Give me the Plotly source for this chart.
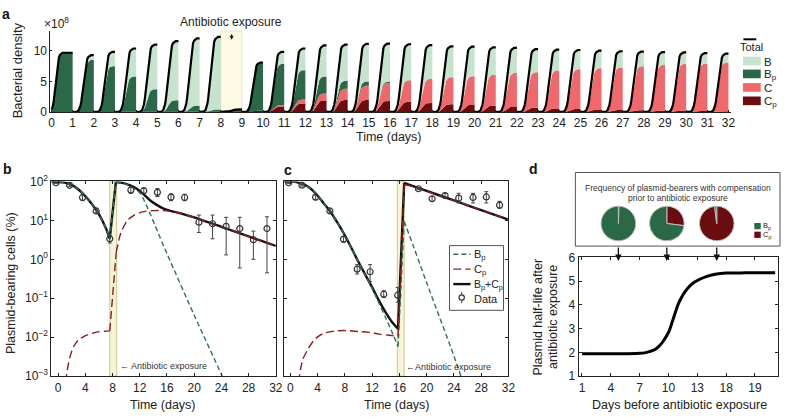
import plotly.graph_objects as go

W, H = 788, 419
def PX(x): return x / W
def PY(y): return 1 - y / H

FONT = "Liberation Sans, Arial, Helvetica, sans-serif"

# ---------------- Panel a data (plateau values per daily cycle, x10^8) ----------------
A_DAY_END = list(range(1, 33))
A_B  = [0, 0.8, 2.35, 4.6, 7.35, 9.7, 11.05, 11.9, 0, 0, 2.0, 3.55, 5.1, 5.95, 6.15, 6.3,
        5.9, 5.55, 5.05, 4.85, 4.5, 4.13, 3.8, 3.4, 3.15, 2.9, 2.65, 2.4, 2.1, 1.9, 1.7, 1.45]
A_BP = [9.7, 8.5, 7.5, 5.8, 3.7, 1.9, 1.0, 0.4, 0.4, 7.9, 6.7, 4.8, 2.8, 1.3, 0.7, 0.2,
        0.05, 0, 0, 0, 0, 0, 0, 0, 0, 0, 0, 0, 0, 0, 0, 0]
A_C  = [0, 0, 0, 0, 0, 0, 0, 0, 0, 0, 0.25, 0.65, 1.15, 1.85, 2.35, 2.9,
        3.5, 3.93, 4.44, 4.7, 5.1, 5.52, 5.8, 6.22, 6.52, 6.75, 6.97, 7.23, 7.48, 7.67, 7.8, 7.98]
A_CP = [0, 0, 0, 0, 0, 0, 0, 0, 0, 0.2, 0.9, 1.4, 1.85, 1.95, 1.95, 1.8,
        1.65, 1.47, 1.26, 1.15, 1.0, 0.85, 0.7, 0.58, 0.48, 0.4, 0.33, 0.27, 0.22, 0.18, 0.15, 0.12]
# within-day growth shape (fraction of day -> fraction of plateau)
GROW_T = [0, 0.2, 0.28, 0.33, 0.37, 0.41, 0.45, 0.49, 0.53, 0.57, 0.61, 0.65, 0.69, 0.74, 0.80, 0.87, 1.0]
GROW_F = [0, 0.006, 0.025, 0.06, 0.11, 0.19, 0.30, 0.43, 0.57, 0.70, 0.80, 0.88, 0.935, 0.97, 0.99, 1.0, 1.0]
DAY0_T = [0, 0.05, 0.1, 0.14, 0.18, 0.22, 0.26, 0.30, 0.35, 0.40, 0.46, 0.52, 1.0]
DAY0_F = [0.04, 0.08, 0.17, 0.3, 0.45, 0.6, 0.73, 0.84, 0.92, 0.965, 0.99, 1.0, 1.0]
A_XTICKS = list(range(0, 33))
A_YTICKS = [0, 5, 10]

# ---------------- Panel b ----------------
B_BLK_PRE_X = [-1, 0, 1, 2, 3, 4, 5, 6, 7, 7.6]
B_BLK_PRE_Y = [100, 98, 93, 82, 62, 42, 26, 14.5, 6.5, 3.4]
B_BLK_POST_X = [8.5, 9.5, 10.5, 11.5, 12.5, 13.5, 14.5, 15.5, 16.5, 18, 20, 24, 28, 32]
B_BLK_POST_Y = [97, 92, 80, 66, 48, 33, 25, 20, 17.5, 15.2, 12, 6.8, 3.9, 2.2]
B_GRN_POST_X = [8.5, 9.5, 10.5, 11.5, 12.1, 16, 20, 24, 24.6]
B_GRN_POST_Y = [97, 91, 78, 60, 49, 1.4, 0.037, 0.0011, 0.0006]
B_RED_PRE_X = [1.1, 1.7, 2.4, 3.0, 3.9, 5.0, 5.8, 6.8, 7.6]
B_RED_PRE_Y = [0.0007, 0.0029, 0.0062, 0.0085, 0.0107, 0.0125, 0.0137, 0.0142, 0.0145]
B_RED_POST_X = [8.55, 9.2, 10.2, 11.2, 12.6, 14, 16, 17, 18, 20, 24, 28, 32]
B_RED_POST_Y = [1.5, 4.6, 10, 13.7, 16.8, 17.8, 17.6, 16.4, 15.2, 12, 6.8, 3.9, 2.2]
B_DATA_X = [-0.3, 1.7, 3.6, 5.6, 7.6, 10.7, 12.6, 14.6, 16.6, 18.6, 20.7, 22.7, 24.7, 26.7, 28.7, 30.7]
B_DATA_Y = [92.7, 79.6, 38.7, 17.5, 3.37, 60, 57.6, 52.5, 39.5, 38.7, 9.0, 8.2, 7.05, 6.17, 3.18, 6.17]
B_DATA_HI = [97, 84, 45.2, 19.5, 4.0, 72.4, 68.5, 65.9, 47.8, 46.9, 13.7, 13.7, 12.0, 12.0, 5.3, 12.4]
B_DATA_LO = [88, 75, 32.1, 15.5, 2.63, 49.6, 49.6, 41, 32.1, 32.1, 4.9, 3.37, 1.3, 0.6, 1.0, 0.45]
B_BAND = [7.6, 8.6]

# ---------------- Panel c ----------------
C_BLK_PRE_X = [-1, 0, 1, 2, 3, 4, 5, 6, 7, 8, 9, 10, 11, 12, 13, 14, 15, 15.8]
C_BLK_PRE_Y = [100, 99, 95, 84, 65, 43, 26, 15.5, 8.2, 4.1, 1.9, 0.85, 0.4, 0.19, 0.087, 0.043, 0.0235, 0.0164]
C_GRN_PRE_X = [-1, 0, 1, 2, 3, 4, 5, 6, 7, 8, 9, 10, 11, 12, 13, 14, 15, 15.8]
C_GRN_PRE_Y = [100, 99, 95, 84, 65, 43, 26, 15.5, 8.2, 4.1, 1.9, 0.84, 0.39, 0.18, 0.075, 0.031, 0.0125, 0.0058]
C_BLK_POST_X = [16.7, 18, 20, 24, 28, 32]
C_BLK_POST_Y = [92, 76, 57, 32.5, 18.4, 10.5]
C_GRN_POST_X = [16.7, 18, 20, 24, 25.6]
C_GRN_POST_Y = [9.5, 2.3, 0.25, 0.0033, 0.0005]
C_RED_PRE_X = [1.2, 1.8, 2.6, 3.5, 4.1, 5.0, 6.5, 8.0, 10.0, 11.5, 13.0, 14.5, 15.8]
C_RED_PRE_Y = [0.0007, 0.0026, 0.005, 0.0085, 0.0105, 0.0128, 0.0144, 0.0148, 0.014, 0.0133, 0.012, 0.0112, 0.0106]
C_RED_POST_X = [16.7, 18, 20, 24, 28, 32]
C_RED_POST_Y = [82, 74, 56, 32.4, 18.4, 10.5]
C_DATA_X = [-0.25, 1.7, 3.7, 5.8, 7.8, 9.8, 11.7, 13.7, 15.75, 18.8, 20.8, 22.7, 24.7, 26.8, 28.75, 30.7]
C_DATA_Y = [92.7, 80, 39.5, 17.5, 3.3, 0.56, 0.48, 0.127, 0.12, 65, 36, 43.5, 37.3, 38.8, 40, 24.6]
C_DATA_HI = [97, 84, 44.8, 19.5, 3.84, 0.73, 0.73, 0.155, 0.19, 70, 41, 49.6, 49.6, 49.6, 54.6, 30.9]
C_DATA_LO = [88, 76, 33.8, 15.5, 2.73, 0.42, 0.27, 0.104, 0.079, 61, 30.9, 37.3, 28.1, 28.1, 28.1, 20.4]
C_BAND = [15.7, 16.7]
LOG_TICKS = [1e-3, 1e-2, 1e-1, 1, 10, 100]
LOG_TEXT = ["10<sup>−3</sup>", "10<sup>−2</sup>", "10<sup>−1</sup>", "10<sup>0</sup>", "10<sup>1</sup>", "10<sup>2</sup>"]
BC_XTICKS = [0, 4, 8, 12, 16, 20, 24, 28, 32]

# ---------------- Panel d ----------------
D_X = [1, 3, 5, 7, 7.5, 8, 8.5, 9, 9.5, 10, 10.5, 11, 11.5, 12, 12.5, 13, 14, 15, 16, 18, 21.1]
D_Y = [1.94, 1.94, 1.94, 1.96, 1.98, 2.03, 2.1, 2.25, 2.5, 2.84, 3.42, 4.02, 4.42, 4.7, 4.9, 5.03, 5.2, 5.3, 5.34, 5.35, 5.35]
D_TICKVALS = [1, 4, 7, 10, 13, 16, 19]
D_TICKTEXT = ["1", "4", "7", "10", "13", "18", "19"]
PIE_LABELS = ["Cp", "Bp"]
PIE_VALUES = [[0.6, 99.4], [27, 73], [98, 2]]

COL_B, COL_BP, COL_C, COL_CP = "#c6e3cd", "#2a6847", "#f0686b", "#6a0c10"
COL_GD, COL_RD = "#2f7352", "#8e1b1f"

fig = go.Figure()

# ---- panel a stacked areas ----
xs, fr, idx = [], [], []
for k, d in enumerate(A_DAY_END):
    T, F = (DAY0_T, DAY0_F) if k == 0 else (GROW_T, GROW_F)
    for t, f in zip(T, F):
        xs.append(d - 1 + t)
        fr.append(f)
        idx.append(k)
comp = [A_CP, A_C, A_BP, A_B]
cols = [COL_CP, COL_C, COL_BP, COL_B]
cum = [0.0] * len(xs)
for ci, (vals, col) in enumerate(zip(comp, cols)):
    cum = [c + vals[i] * f for c, i, f in zip(cum, idx, fr)]
    fig.add_trace(go.Scatter(x=xs, y=cum, mode="lines", line=dict(width=0, color=col),
                             fill="tozeroy" if ci == 0 else "tonexty", fillcolor=col,
                             xaxis="x", yaxis="y", showlegend=False, hoverinfo="skip"))
lx, ly = [], []
prev = 0
for x, c, i in zip(xs, cum, idx):
    if i != prev:
        lx.append(None); ly.append(None)
        prev = i
    lx.append(x); ly.append(c)
fig.add_trace(go.Scatter(x=lx, y=ly, mode="lines", line=dict(color="black", width=2.2),
                         xaxis="x", yaxis="y", showlegend=False, connectgaps=False, hoverinfo="skip"))

# ---- panels b, c ----
def seg(x, y, ax, color, width, dash=None, shape="spline"):
    fig.add_trace(go.Scatter(x=x, y=y, mode="lines", xaxis=ax[0], yaxis=ax[1],
                             line=dict(color=color, width=width, dash=dash, shape=shape, smoothing=0.8),
                             showlegend=False, hoverinfo="skip"))

GD = "5px,3px"
RD = "8px,4px"
for ax, bpre, bpx, bpy, gpre, gpx, gpy, rpx, rpy, rqx, rqy, dx, dy, dhi, dlo in [
    (("x2", "y2"), (B_BLK_PRE_X, B_BLK_PRE_Y), B_BLK_POST_X, B_BLK_POST_Y, (B_BLK_PRE_X, B_BLK_PRE_Y),
     B_GRN_POST_X, B_GRN_POST_Y, B_RED_PRE_X, B_RED_PRE_Y, B_RED_POST_X, B_RED_POST_Y,
     B_DATA_X, B_DATA_Y, B_DATA_HI, B_DATA_LO),
    (("x3", "y3"), (C_BLK_PRE_X, C_BLK_PRE_Y), C_BLK_POST_X, C_BLK_POST_Y, (C_GRN_PRE_X, C_GRN_PRE_Y),
     C_GRN_POST_X, C_GRN_POST_Y, C_RED_PRE_X, C_RED_PRE_Y, C_RED_POST_X, C_RED_POST_Y,
     C_DATA_X, C_DATA_Y, C_DATA_HI, C_DATA_LO)]:
    seg(bpre[0], bpre[1], ax, "#111", 2.4)
    seg([bpre[0][-1], bpx[0]], [bpre[1][-1], bpy[0]], ax, "#111", 2.4, shape="linear")
    seg(bpx, bpy, ax, "#111", 2.4)
    seg(gpre[0], gpre[1], ax, COL_GD, 1.4, GD)
    seg([gpre[0][-1], gpx[0]], [gpre[1][-1], gpy[0]], ax, COL_GD, 1.4, GD, shape="linear")
    seg(gpx, gpy, ax, COL_GD, 1.4, GD)
    seg(rpx, rpy, ax, COL_RD, 1.4, RD)
    seg([rpx[-1], rqx[0]], [rpy[-1], rqy[0]], ax, COL_RD, 1.4, RD, shape="linear")
    seg(rqx, rqy, ax, COL_RD, 1.4, RD)
    fig.add_trace(go.Scatter(x=dx, y=dy, mode="markers", xaxis=ax[0], yaxis=ax[1],
                             marker=dict(symbol="circle-open", size=6, color="#333", line=dict(width=1.2)),
                             error_y=dict(type="data", symmetric=False,
                                          array=[h - v for h, v in zip(dhi, dy)],
                                          arrayminus=[v - l for l, v in zip(dlo, dy)],
                                          color="#444", thickness=1, width=2),
                             showlegend=False, hoverinfo="skip"))

# ---- panel d ----
fig.add_trace(go.Scatter(x=D_X, y=D_Y, mode="lines", xaxis="x4", yaxis="y4",
                         line=dict(color="black", width=3, shape="spline", smoothing=0.8),
                         showlegend=False, hoverinfo="skip"))
pie_cx = [623.5, 672.5, 723]
for cx, vals in zip(pie_cx, PIE_VALUES):
    fig.add_trace(go.Pie(labels=PIE_LABELS, values=vals, sort=False, direction="clockwise", rotation=0,
                         marker=dict(colors=[COL_CP, COL_BP], line=dict(color="#bdbdbd", width=1)),
                         textinfo="none", showlegend=False, hoverinfo="skip",
                         domain=dict(x=[PX(cx - 18), PX(cx + 18)], y=[PY(241), PY(205)])))

axis_common = dict(showline=True, linecolor="#222", linewidth=1, showgrid=False, zeroline=False,
                   ticks="inside", ticklen=3, tickcolor="#222", tickfont=dict(size=12, color="#222"))

shapes, ann = [], []

shapes.append(dict(type="rect", xref="x", yref="y domain", x0=8, x1=9, y0=0, y1=1,
                   fillcolor="#fdfbe4", line=dict(color="#ebe6c0", width=1), layer="below"))
for band, xr, yr in [(B_BAND, "x2", "y2 domain"), (C_BAND, "x3", "y3 domain")]:
    shapes.append(dict(type="rect", xref=xr, yref=yr, x0=band[0], x1=band[1], y0=0, y1=1,
                       fillcolor="#f6f3d9", line=dict(color="#d6d09c", width=1.2), layer="below"))

def rect(x0, y0, x1, y1, fill, line=None, lw=0):
    shapes.append(dict(type="rect", xref="paper", yref="paper", x0=PX(x0), x1=PX(x1), y0=PY(y1), y1=PY(y0),
                       fillcolor=fill, line=dict(color=line or fill, width=lw)))
def hline(x0, x1, y, color, width, dash=None):
    shapes.append(dict(type="line", xref="paper", yref="paper", x0=PX(x0), x1=PX(x1), y0=PY(y), y1=PY(y),
                       line=dict(color=color, width=width, dash=dash)))
def text(x, y, s, size=12, xanchor="center", yanchor="middle", color="#222", angle=0, bold=False):
    ann.append(dict(xref="paper", yref="paper", x=PX(x), y=PY(y), text=f"<b>{s}</b>" if bold else s,
                    showarrow=False, xanchor=xanchor, yanchor=yanchor, textangle=angle, borderpad=0,
                    font=dict(size=size, color=color, family=FONT)))
def arrow(x, y0, y1, width=1.2, head=2, size=1):
    ann.append(dict(xref="paper", yref="paper", x=PX(x), y=PY(y1), ax=0, ay=-(y1 - y0),
                    text="", showarrow=True, arrowhead=head, arrowsize=size,
                    arrowwidth=width, arrowcolor="#111"))

# legend a
hline(750, 763, 31.5, "black", 2)
text(758, 39.5, "Total", size=11)
for lab, col, yc in [("B", COL_B, 54), ("B<sub>p</sub>", COL_BP, 67.5), ("C", COL_C, 81.5), ("C<sub>p</sub>", COL_CP, 95.5)]:
    rect(749.5, yc - 4.5, 767.5, yc + 4.5, col)
    text(769.5, yc + 1, lab, size=11.5, xanchor="left")

# legend c
rect(452.7, 246, 507.3, 313.3, "white", "#555", 1)
hline(456.5, 474, 255, COL_GD, 1.4, GD)
hline(456.5, 474, 270.5, COL_RD, 1.4, RD)
hline(456.5, 474, 286, "#111", 2.4)
shapes.append(dict(type="line", xref="paper", yref="paper", x0=PX(465), x1=PX(465), y0=PY(306), y1=PY(294),
                   line=dict(color="#444", width=1)))
shapes.append(dict(type="circle", xref="paper", yref="paper", x0=PX(462.3), x1=PX(467.7), y0=PY(302.7), y1=PY(297.3),
                   line=dict(color="#333", width=1.2), fillcolor="white"))
text(476, 256, "B<sub>p</sub>", size=11, xanchor="left")
text(476, 271.5, "C<sub>p</sub>", size=11, xanchor="left")
text(476, 287, "B<sub>p</sub>+C<sub>p</sub>", size=10.5, xanchor="left")
text(476, 301.5, "Data", size=11, xanchor="left")

# panel d pie box
rect(580, 170, 787, 246.5, "rgba(0,0,0,0)", "#555", 1)
text(683.5, 186, "Frequency of plasmid-bearers with compensation", size=8.5, color="#333")
text(683.5, 196.5, "prior to antibiotic exposure", size=8.5, color="#333")
rect(761, 222.5, 767.5, 229, COL_BP)
rect(761, 231.5, 767.5, 238, COL_CP)
text(768.5, 226, "B<sub>p</sub>", size=7.5, xanchor="left")
text(768.5, 235, "C<sub>p</sub>", size=7.5, xanchor="left")
for cx in pie_cx:
    arrow(cx, 247, 262, width=1.3, head=2, size=1)

# panel a texts
text(4, 5, "a", size=14, bold=True, color="#111")
text(55, 15, "×10<sup>8</sup>", size=12)
text(232, 14, "Antibiotic exposure", size=12)
arrow(232.3, 25, 32, width=1, head=2, size=0.8)
text(16, 64, "Bacterial density", size=13, angle=-90)
text(391, 133, "Time (days)", size=12.5)
# b texts
text(6, 166, "b", size=14, bold=True, color="#111")
text(9, 285, "Plasmid-bearing cells (%)", size=12.5, angle=-90)
text(163, 412, "Time (days)", size=12.5)
text(118, 370.7, "← Antibiotic exposure", size=9, xanchor="left", color="#333")
# c texts
text(289, 167, "c", size=14, bold=True, color="#111")
text(400, 412, "Time (days)", size=12.5)
text(408, 371.7, "←Antibiotic exposure", size=9, xanchor="left", color="#333")
# d texts
text(538, 166, "d", size=14, bold=True, color="#111")
text(542, 320, "Plasmid half-life after", size=12.5, angle=-90)
text(557.5, 320, "antibiotic exposure", size=12.5, angle=-90)
text(685, 411.7, "Days before antibiotic exposure", size=12.5)

bc_y = [PY(381.7), PY(179.3)]
fig.update_layout(
    width=W, height=H, margin=dict(l=0, r=0, t=0, b=0),
    paper_bgcolor="white", plot_bgcolor="rgba(0,0,0,0)",
    font=dict(family=FONT, size=12, color="#222"),
    showlegend=False,
    xaxis=dict(axis_common, domain=[PX(49), PX(737)], range=[-0.05, 32.1], anchor="y",
               tickvals=A_XTICKS, ticklen=2),
    yaxis=dict(axis_common, domain=[PY(107), PY(23)], range=[0, 13.25], anchor="x",
               tickvals=A_YTICKS, ticklen=2),
    xaxis2=dict(axis_common, domain=[PX(50), PX(277)], range=[-0.97, 32], anchor="y2",
                tickvals=BC_XTICKS, mirror="ticks"),
    yaxis2=dict(axis_common, domain=bc_y, type="log", range=[-3, 2], anchor="x2",
                tickvals=LOG_TICKS, ticktext=LOG_TEXT, mirror="ticks"),
    xaxis3=dict(axis_common, domain=[PX(285.7), PX(512.3)], range=[-0.87, 32], anchor="y3",
                tickvals=BC_XTICKS, mirror="ticks"),
    yaxis3=dict(axis_common, domain=bc_y, type="log", range=[-3, 2], anchor="x3",
                tickvals=LOG_TICKS, showticklabels=False, mirror="ticks"),
    xaxis4=dict(axis_common, domain=[PX(583.3), PX(785)], range=[0.65, 21.4], anchor="y4",
                tickvals=D_TICKVALS, ticktext=D_TICKTEXT, mirror="ticks"),
    yaxis4=dict(axis_common, domain=[PY(381.7), PY(258.3)], range=[1, 6], anchor="x4",
                tickvals=[1, 2, 3, 4, 5, 6], mirror="ticks"),
    shapes=shapes, annotations=ann,
)
fig.write_html("out.html", config={"displayModeBar": False, "staticPlot": True},
               post_script="document.body.style.margin='0';document.body.style.overflow='hidden';")
